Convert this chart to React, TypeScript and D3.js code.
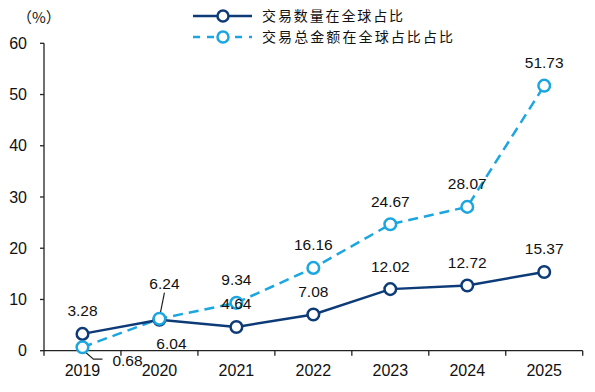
import React from 'react';
import * as d3 from 'd3';

const years = ['2019', '2020', '2021', '2022', '2023', '2024', '2025'];
const countShare = [3.28, 6.04, 4.64, 7.08, 12.02, 12.72, 15.37];
const amountShare = [0.68, 6.24, 9.34, 16.16, 24.67, 28.07, 51.73];
const yTicks = [0, 10, 20, 30, 40, 50, 60];
const legendNames = ['交易数量在全球占比', '交易总金额在全球占比占比'];

const NAVY = '#0d3b78';
const CYAN = '#1ba6e0';

export default function App() {
  const width = 595;
  const height = 392;
  const left = 44;
  const right = 582.7;
  const top = 43.3;
  const bottom = 350.7;

  const x = d3.scaleBand().domain(years).range([left, right]);
  const cx = (yr: string) => (x(yr) as number) + x.bandwidth() / 2;
  const y = d3.scaleLinear().domain([0, 60]).range([bottom, top]);

  const line = d3
    .line<number>()
    .x((_, i) => cx(years[i]))
    .y((d) => y(d));

  const font = 'Liberation Sans, Arial, sans-serif';
  const cjk = '"Noto Sans CJK SC", sans-serif';

  // label offsets for the special cases
  const labelFor = (series: 'count' | 'amount', i: number, v: number) => {
    const px = cx(years[i]);
    const py = y(v);
    if (series === 'count' && i === 1) return { x: px + 12, y: py + 24 };
    if (series === 'amount' && i === 0) return { x: px + 45, y: py + 13 };
    if (series === 'amount' && i === 1) return { x: px + 5, y: py - 35 };
    return { x: px, y: py - 23 };
  };

  return (
    <svg
      width={width}
      height={height}
      style={{ position: 'absolute', left: 0, top: 0, background: '#fff' }}
    >
      {/* y axis */}
      <line x1={left} x2={left} y1={top} y2={bottom} stroke="#222" strokeWidth={1.3} />
      {yTicks.map((t) => (
        <g key={t}>
          <line x1={left - 4} x2={left} y1={y(t)} y2={y(t)} stroke="#222" strokeWidth={1.3} />
          <text
            x={27}
            y={y(t)}
            dy="0.35em"
            textAnchor="end"
            fontFamily={font}
            fontSize={16}
            fill="#111"
          >
            {t}
          </text>
        </g>
      ))}
      <text x={17} y={23} fontFamily={cjk} fontSize={15} fill="#111">
        （%）
      </text>

      {/* x axis */}
      <line x1={left} x2={right} y1={bottom} y2={bottom} stroke="#222" strokeWidth={1.3} />
      {years.map((yr, i) => (
        <g key={yr}>
          <line
            x1={(x(yr) as number) + x.bandwidth()}
            x2={(x(yr) as number) + x.bandwidth()}
            y1={bottom}
            y2={bottom + 5}
            stroke="#222"
            strokeWidth={1.3}
          />
          {i === 0 && (
            <line x1={left} x2={left} y1={bottom} y2={bottom + 5} stroke="#222" strokeWidth={1.3} />
          )}
          <text
            x={cx(yr)}
            y={370}
            dy="0.35em"
            textAnchor="middle"
            fontFamily={font}
            fontSize={16}
            fill="#111"
          >
            {yr}
          </text>
        </g>
      ))}

      {/* leader lines */}
      <line
        x1={cx(years[1]) + 5}
        y1={y(amountShare[1]) - 26}
        x2={cx(years[1]) + 1}
        y2={y(amountShare[1]) - 6}
        stroke="#222"
        strokeWidth={1.2}
      />
      <polyline
        points={`${cx(years[0]) + 3},${y(amountShare[0]) + 5} ${cx(years[0]) + 11},${y(amountShare[0]) + 12} ${cx(years[0]) + 20},${y(amountShare[0]) + 12}`}
        fill="none"
        stroke="#222"
        strokeWidth={1.2}
      />

      {/* series lines */}
      <path d={line(amountShare) || ''} fill="none" stroke={CYAN} strokeWidth={2.5} strokeDasharray="10,6" />
      <path d={line(countShare) || ''} fill="none" stroke={NAVY} strokeWidth={2.5} />

      {countShare.map((v, i) => (
        <circle key={'c' + i} cx={cx(years[i])} cy={y(v)} r={5.8} fill="#fff" stroke={NAVY} strokeWidth={2.5} />
      ))}
      {amountShare.map((v, i) => (
        <circle key={'a' + i} cx={cx(years[i])} cy={y(v)} r={5.8} fill="#fff" stroke={CYAN} strokeWidth={2.5} />
      ))}

      {/* data labels */}
      {countShare.map((v, i) => {
        const p = labelFor('count', i, v);
        return (
          <text key={'lc' + i} x={p.x} y={p.y} dy="0.35em" textAnchor="middle" fontFamily={font} fontSize={15.5} fill="#111">
            {v.toFixed(2)}
          </text>
        );
      })}
      {amountShare.map((v, i) => {
        const p = labelFor('amount', i, v);
        return (
          <text key={'la' + i} x={p.x} y={p.y} dy="0.35em" textAnchor="middle" fontFamily={font} fontSize={15.5} fill="#111">
            {v.toFixed(2)}
          </text>
        );
      })}

      {/* legend */}
      <g>
        <line x1={193} x2={252} y1={16} y2={16} stroke={NAVY} strokeWidth={2.5} />
        <circle cx={223} cy={16} r={5.5} fill="#fff" stroke={NAVY} strokeWidth={2.5} />
        <text x={262} y={16} dy="0.35em" fontFamily={cjk} fontSize={14} fill="#111" textLength={141} lengthAdjust="spacing">
          {legendNames[0]}
        </text>
        <line x1={193} x2={252} y1={37} y2={37} stroke={CYAN} strokeWidth={2.5} strokeDasharray="7,7" />
        <circle cx={223} cy={37} r={5.5} fill="#fff" stroke={CYAN} strokeWidth={2.5} />
        <text x={262} y={37} dy="0.35em" fontFamily={cjk} fontSize={14} fill="#111" textLength={191} lengthAdjust="spacing">
          {legendNames[1]}
        </text>
      </g>
    </svg>
  );
}
